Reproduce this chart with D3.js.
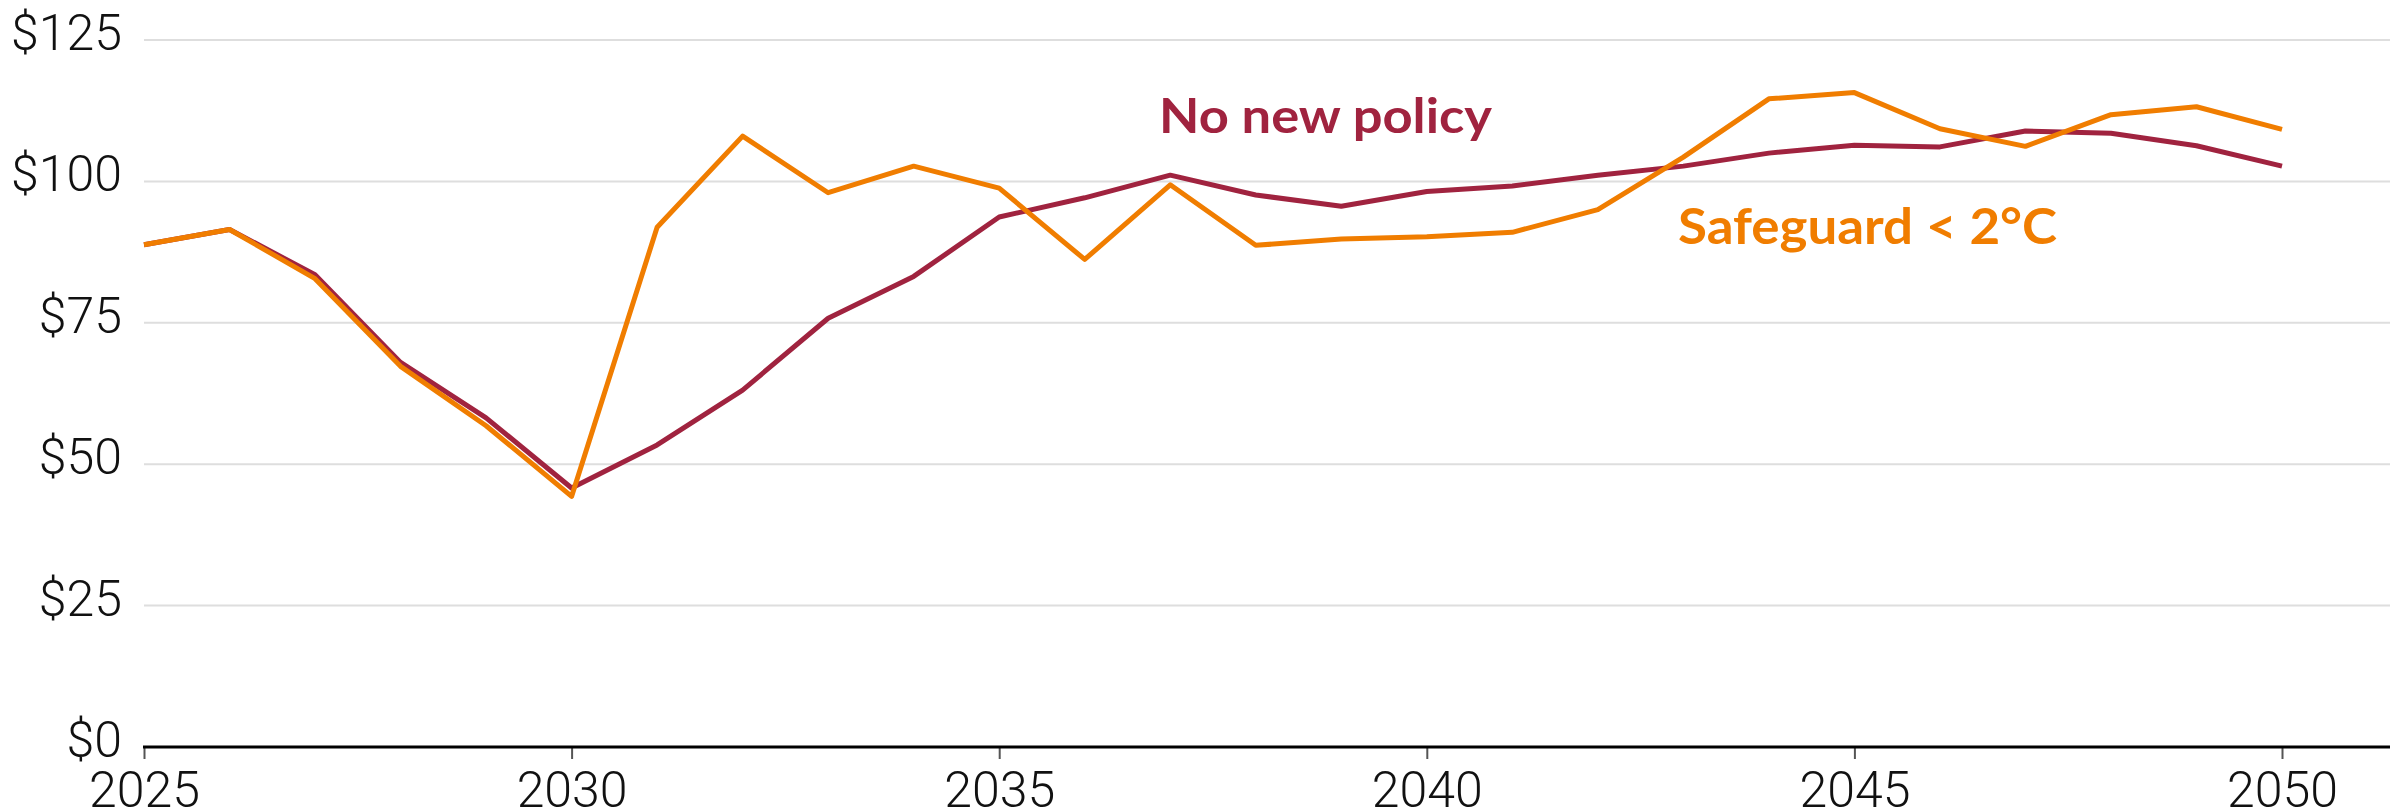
<!DOCTYPE html>
<html>
<head>
<meta charset="utf-8">
<script src="https://cdn.jsdelivr.net/npm/d3@7"></script>
<style>
  html, body { margin: 0; padding: 0; background: #fff; }
  svg { display: block; }
</style>
</head>
<body>
<div id="chart"></div>
<script>
// Years on the x axis
const years = d3.range(2025, 2051);

// Price path under each scenario ($)
const noNewPolicy = [88.8, 91.5, 83.5, 68.0, 58.2, 45.8, 53.4, 63.1, 75.8, 83.2, 93.7, 97.1, 101.1,
                     97.6, 95.6, 98.2, 99.2, 101.1, 102.7, 105.0, 106.4, 106.1, 108.9, 108.5, 106.3, 102.7];
const safeguard   = [88.8, 91.5, 82.8, 67.3, 56.8, 44.3, 91.9, 108.0, 98.0, 102.7, 98.8, 86.2, 99.4,
                     88.7, 89.8, 90.2, 91.0, 95.0, 104.3, 114.6, 115.7, 109.3, 106.2, 111.8, 113.2, 109.2];

const yTicks = [0, 25, 50, 75, 100, 125];
const xTicks = [2025, 2030, 2035, 2040, 2045, 2050];

const width = 2405, height = 811;

const svg = d3.select("#chart")
  .append("svg")
    .attr("width", width)
    .attr("height", height);

const x = d3.scaleLinear().domain([2025, 2050]).range([144, 2282]);
const y = d3.scaleLinear().domain([0, 125]).range([747, 40]);
const plotRight = 2390;

// Gridlines
svg.append("g")
  .selectAll("line")
  .data(yTicks.filter(d => d > 0))
  .join("line")
    .attr("x1", x(2025))
    .attr("x2", plotRight)
    .attr("y1", d => y(d))
    .attr("y2", d => y(d))
    .attr("stroke", "#dedede")
    .attr("stroke-width", 2);

// Y labels
svg.append("g")
  .selectAll("text")
  .data(yTicks)
  .join("text")
    .attr("x", 122)
    .attr("y", d => y(d) + 10)
    .attr("text-anchor", "end")
    .attr("font-family", "Roboto, sans-serif")
    .attr("font-weight", 300)
    .attr("font-size", 50)
    .attr("fill", "#111")
    .text(d => "$" + d);

// X axis
const xAxis = svg.append("g")
  .attr("transform", `translate(0,${y(0)})`)
  .call(d3.axisBottom(x).tickValues(xTicks).tickFormat(d3.format("d")).tickSize(12).tickPadding(12));
xAxis.select(".domain").remove();
xAxis.selectAll(".tick line").attr("stroke", "#555").attr("stroke-width", 2);
xAxis.selectAll(".tick text")
  .attr("font-family", "Roboto, sans-serif")
  .attr("font-weight", 300)
  .attr("font-size", 50)
  .attr("fill", "#111")
  .attr("dy", "0.71em");
svg.append("line")
  .attr("x1", x(2025) - 1)
  .attr("x2", plotRight)
  .attr("y1", y(0))
  .attr("y2", y(0))
  .attr("stroke", "#000")
  .attr("stroke-width", 3);

// Lines
const line = d3.line()
  .x((d, i) => x(years[i]))
  .y(d => y(d));

svg.append("path")
  .datum(noNewPolicy)
  .attr("fill", "none")
  .attr("stroke", "#a0233f")
  .attr("stroke-width", 5)
  .attr("stroke-linejoin", "round")
  .attr("d", line);

svg.append("path")
  .datum(safeguard)
  .attr("fill", "none")
  .attr("stroke", "#f07d00")
  .attr("stroke-width", 5)
  .attr("stroke-linejoin", "round")
  .attr("d", line);

// Series labels
svg.append("text")
  .attr("x", 1159)
  .attr("y", 133)
  .attr("font-family", "Lato, sans-serif")
  .attr("font-weight", 700)
  .attr("font-size", 48)
  .attr("fill", "#a0233f")
  .attr("textLength", 333)
  .attr("lengthAdjust", "spacingAndGlyphs")
  .text("No new policy");

svg.append("text")
  .attr("x", 1678)
  .attr("y", 244)
  .attr("font-family", "Lato, sans-serif")
  .attr("font-weight", 700)
  .attr("font-size", 49)
  .attr("fill", "#f07d00")
  .attr("textLength", 379)
  .attr("lengthAdjust", "spacingAndGlyphs")
  .text("Safeguard < 2°C");
</script>
</body>
</html>
